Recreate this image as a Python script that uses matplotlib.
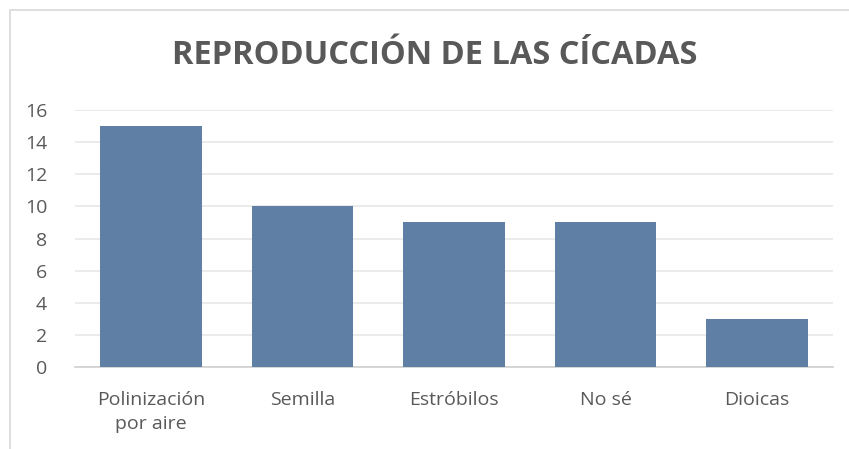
import matplotlib
matplotlib.use("Agg")
import matplotlib.pyplot as plt
from matplotlib.patches import Rectangle

categories = ["Polinización\npor aire", "Semilla", "Estróbilos", "No sé", "Dioicas"]
values = [15, 10, 9, 9, 3]
yticks = [0, 2, 4, 6, 8, 10, 12, 14, 16]
title = "REPRODUCCIÓN DE LAS CÍCADAS"

plt.rcParams['font.family'] = ['Open Sans', 'DejaVu Sans']
W, H = 849, 449
fig = plt.figure(figsize=(W/100, H/100), dpi=100)
fig.patches.append(Rectangle((10/W, -0.1), 1.2, (H-10)/H + 0.1, transform=fig.transFigure,
                             fill=False, edgecolor="#D9D9D9", linewidth=1.2))

ax = fig.add_axes([75/W, 1-367/H, (833-75)/W, (367-110)/H])
x = range(len(categories))
ax.bar(x, values, width=0.67, color="#5F7FA5", zorder=3)
ax.set_xlim(-0.5, len(categories)-0.5)
ax.set_ylim(0, 16)
ax.set_yticks(yticks)
ax.set_xticks(list(x))
ax.set_xticklabels(categories, fontsize=14, color="#595959", linespacing=1.45)
ax.tick_params(axis='y', labelsize=14, labelcolor="#595959", length=0, pad=20)
ax.tick_params(axis='x', length=0, pad=17)
ax.grid(axis='y', color="#E8E8E8", linewidth=1.2, zorder=0)
for s in ["top", "right", "left"]:
    ax.spines[s].set_visible(False)
ax.spines["bottom"].set_color("#D0D0D0")
ax.spines["bottom"].set_linewidth(1.2)

fig.text(435/W, 1-56/H, title, ha="center", va="center", fontsize=23.5,
         fontweight="bold", color="#595959")

fig.savefig("out.png", dpi=100)
